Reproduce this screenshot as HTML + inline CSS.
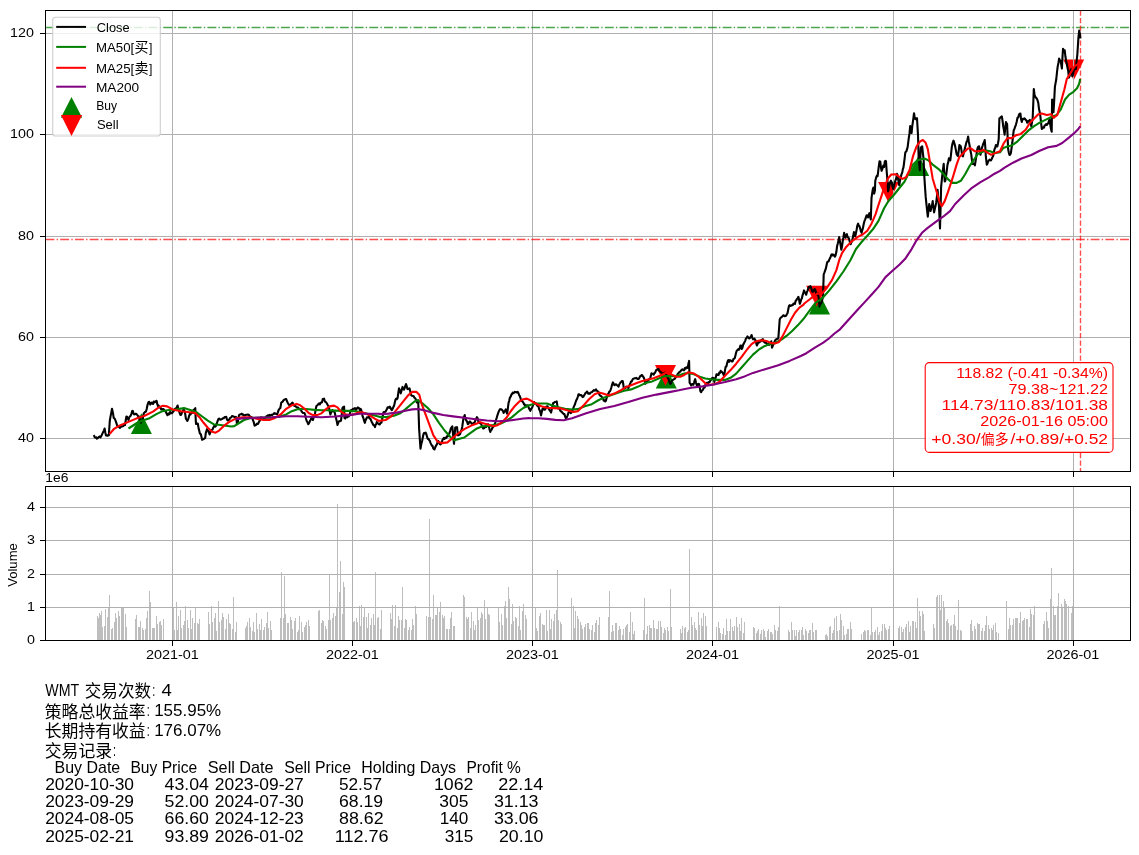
<!DOCTYPE html>
<html><head><meta charset="utf-8"><title>WMT</title>
<style>html,body{margin:0;padding:0;background:#fff}svg{display:block;will-change:transform}text{white-space:pre}</style></head>
<body><svg width="1139" height="855" viewBox="0 0 1139 855">
<rect width="1139" height="855" fill="#fff"/>
<g id="main">
<polygon points="130.9,434.0 151.9,434.0 141.4,413.3" fill="#008000"/>
<polygon points="655.8,388.6 676.8,388.6 666.3,367.9" fill="#008000"/>
<polygon points="809.0,314.5 830.0,314.5 819.5,293.8" fill="#008000"/>
<polygon points="908.2,176.0 929.2,176.0 918.7,155.3" fill="#008000"/>
<polygon points="655.0,365.0 676.0,365.0 665.5,385.7" fill="#ff0000"/>
<polygon points="806.2,285.7 827.2,285.7 816.7,306.4" fill="#ff0000"/>
<polygon points="878.1,182.0 899.1,182.0 888.6,202.7" fill="#ff0000"/>
<polygon points="1063.2,59.5 1084.2,59.5 1073.7,80.2" fill="#ff0000"/>
<line x1="172.5" y1="10.5" x2="172.5" y2="471.5" stroke="#b0b0b0" stroke-width="1" shape-rendering="crispEdges"/>
<line x1="352.5" y1="10.5" x2="352.5" y2="471.5" stroke="#b0b0b0" stroke-width="1" shape-rendering="crispEdges"/>
<line x1="532.5" y1="10.5" x2="532.5" y2="471.5" stroke="#b0b0b0" stroke-width="1" shape-rendering="crispEdges"/>
<line x1="712.5" y1="10.5" x2="712.5" y2="471.5" stroke="#b0b0b0" stroke-width="1" shape-rendering="crispEdges"/>
<line x1="893.5" y1="10.5" x2="893.5" y2="471.5" stroke="#b0b0b0" stroke-width="1" shape-rendering="crispEdges"/>
<line x1="1073.5" y1="10.5" x2="1073.5" y2="471.5" stroke="#b0b0b0" stroke-width="1" shape-rendering="crispEdges"/>
<line x1="45.5" y1="438.5" x2="1130.5" y2="438.5" stroke="#b0b0b0" stroke-width="1" shape-rendering="crispEdges"/>
<line x1="45.5" y1="337.5" x2="1130.5" y2="337.5" stroke="#b0b0b0" stroke-width="1" shape-rendering="crispEdges"/>
<line x1="45.5" y1="236.5" x2="1130.5" y2="236.5" stroke="#b0b0b0" stroke-width="1" shape-rendering="crispEdges"/>
<line x1="45.5" y1="134.5" x2="1130.5" y2="134.5" stroke="#b0b0b0" stroke-width="1" shape-rendering="crispEdges"/>
<line x1="45.5" y1="33.5" x2="1130.5" y2="33.5" stroke="#b0b0b0" stroke-width="1" shape-rendering="crispEdges"/>
<line x1="45.5" y1="27.5" x2="1130.5" y2="27.5" stroke="#008000" stroke-opacity="0.7" stroke-width="1.3" stroke-dasharray="8.89,2.22,1.39,2.22"/>
<line x1="45.5" y1="239.5" x2="1130.5" y2="239.5" stroke="#ff0000" stroke-opacity="0.7" stroke-width="1.3" stroke-dasharray="8.89,2.22,1.39,2.22"/>
<line x1="1080.5" y1="10.5" x2="1080.5" y2="471.5" stroke="#ff0000" stroke-opacity="0.7" stroke-width="1.4" stroke-dasharray="5.3,2.2"/>
<path d="M93.6,435.1 L94.2,436.0 L94.8,437.4 L95.5,437.6 L96.2,437.4 L96.9,438.6 L97.6,438.3 L98.3,437.5 L99.0,436.9 L99.7,436.5 L100.4,437.4 L101.1,436.2 L101.8,434.9 L102.5,433.4 L103.2,432.0 L103.9,430.6 L104.6,428.5 L105.3,432.5 L106.0,435.5 L106.7,435.5 L107.4,435.8 L108.1,435.0 L108.8,435.5 L109.8,420.7 L110.5,416.6 L111.3,412.6 L112.0,408.8 L112.9,412.7 L113.7,417.9 L114.4,418.3 L115.1,419.5 L115.8,421.4 L116.5,423.4 L117.2,425.7 L117.9,426.1 L118.6,426.5 L119.3,427.3 L120.0,427.8 L120.7,426.6 L121.4,426.8 L122.1,426.4 L122.8,426.1 L123.5,426.0 L124.2,424.9 L125.0,425.0 L125.7,420.5 L126.4,416.5 L127.1,416.7 L127.8,418.6 L128.5,420.0 L129.2,417.5 L129.9,416.5 L130.6,415.8 L131.4,413.9 L132.3,410.9 L132.9,411.0 L133.5,413.6 L134.1,414.4 L134.8,414.3 L135.5,413.8 L136.2,413.7 L136.9,414.6 L137.6,415.4 L138.3,416.3 L139.0,416.5 L139.8,419.6 L140.7,422.8 L141.3,421.6 L141.9,420.7 L142.5,420.0 L143.2,416.0 L143.9,413.0 L144.6,412.5 L145.3,411.7 L146.0,411.6 L146.7,409.0 L147.4,405.3 L148.3,402.6 L149.1,401.8 L149.7,402.6 L150.2,404.6 L150.9,403.6 L151.6,402.6 L152.3,403.2 L153.0,403.9 L153.7,401.5 L154.5,402.5 L155.2,401.8 L155.9,401.1 L156.6,400.8 L157.3,404.2 L158.0,406.0 L158.6,405.4 L159.3,407.4 L160.0,407.3 L160.7,408.0 L161.3,409.5 L162.2,409.2 L163.1,409.0 L163.8,409.4 L164.5,410.8 L165.3,411.2 L166.0,412.0 L166.7,413.8 L167.5,415.2 L168.1,414.5 L168.8,413.4 L169.5,414.2 L170.2,411.9 L171.0,413.0 L171.9,413.3 L172.7,412.1 L173.6,411.3 L174.5,409.5 L175.4,408.6 L176.2,408.2 L176.9,407.0 L177.6,405.5 L178.4,409.5 L179.1,411.2 L179.8,413.4 L180.4,414.9 L181.1,414.8 L181.7,413.3 L182.4,411.7 L183.0,410.5 L183.7,409.5 L184.4,410.9 L185.0,412.6 L185.9,418.7 L186.6,419.7 L187.4,420.9 L188.0,419.5 L188.5,418.3 L189.2,415.6 L189.9,413.9 L190.5,414.5 L191.2,413.0 L192.0,412.0 L192.9,413.0 L193.6,409.7 L194.2,409.9 L195.3,408.2 L195.6,416.9 L196.0,424.0 L196.9,423.7 L197.8,423.5 L198.6,428.4 L199.3,430.9 L199.9,433.6 L200.8,434.1 L201.5,437.1 L202.1,439.8 L203.0,439.2 L203.9,438.9 L204.6,438.4 L205.2,438.0 L205.8,432.8 L206.4,431.2 L207.0,429.2 L207.6,430.6 L208.3,431.0 L208.9,432.5 L209.6,434.5 L210.5,431.9 L211.1,430.6 L211.8,429.7 L212.5,429.8 L213.1,427.9 L213.7,427.1 L214.3,425.7 L214.9,425.1 L215.5,426.6 L216.2,425.3 L216.8,423.7 L217.5,421.3 L218.1,419.7 L218.6,418.7 L219.4,418.6 L220.1,419.6 L221.0,419.5 L221.9,419.1 L222.8,418.3 L223.7,418.3 L224.3,417.4 L225.0,417.0 L225.6,417.0 L226.3,416.9 L226.9,419.3 L227.6,420.5 L228.5,419.8 L229.4,419.6 L230.0,418.0 L230.7,417.8 L231.3,417.3 L232.0,416.1 L232.9,416.3 L233.7,416.5 L234.5,417.1 L235.2,417.4 L235.9,416.9 L236.4,417.8 L236.9,424.0 L237.7,422.2 L238.4,418.6 L239.0,415.2 L239.7,414.7 L240.3,414.3 L241.0,414.3 L241.7,413.7 L242.3,414.6 L243.0,414.3 L243.8,415.4 L244.7,415.2 L245.5,415.1 L246.2,414.8 L246.9,414.8 L247.8,414.6 L248.7,414.8 L249.3,415.5 L250.0,416.9 L250.9,416.8 L251.7,417.4 L252.4,418.7 L253.1,420.5 L253.9,422.7 L254.6,425.7 L255.4,425.1 L256.1,424.9 L257.0,423.6 L257.9,424.0 L258.6,422.8 L259.2,421.3 L260.0,420.5 L260.9,417.2 L261.6,417.8 L262.3,417.7 L263.0,417.7 L263.7,419.3 L264.4,418.6 L265.1,418.5 L265.8,416.9 L266.5,416.3 L267.2,415.8 L267.9,415.4 L268.6,415.9 L269.3,414.9 L270.0,415.8 L270.7,415.1 L271.4,414.7 L272.1,415.1 L272.8,414.4 L273.5,414.1 L274.2,413.2 L275.0,413.7 L275.7,413.6 L276.4,414.1 L277.1,414.4 L277.8,412.6 L278.5,410.2 L279.1,409.6 L279.7,408.4 L280.3,408.1 L281.3,402.5 L282.0,402.0 L282.7,401.6 L283.4,400.4 L284.1,399.9 L284.8,399.4 L285.5,399.1 L286.2,399.0 L286.9,401.0 L287.6,402.5 L288.3,403.9 L289.0,404.5 L289.7,406.0 L290.4,405.3 L291.1,404.0 L291.8,403.0 L292.5,402.5 L293.2,404.3 L293.9,405.2 L294.6,406.0 L295.3,406.0 L296.0,406.7 L296.7,407.3 L297.4,407.4 L298.1,407.6 L298.8,408.4 L299.5,409.3 L300.2,409.5 L300.9,409.5 L301.6,411.5 L302.3,412.3 L303.0,412.9 L303.7,413.0 L304.5,413.0 L305.2,414.9 L305.9,418.3 L306.6,420.7 L307.4,422.1 L308.2,424.2 L308.9,423.4 L309.5,422.2 L310.1,420.7 L310.8,419.4 L311.5,417.9 L312.2,418.6 L312.9,420.0 L313.6,417.6 L314.3,416.2 L315.0,413.7 L315.7,409.4 L316.4,406.0 L317.1,405.5 L317.8,404.8 L318.5,403.9 L319.2,403.4 L319.9,404.4 L320.6,402.9 L321.3,402.5 L322.0,402.4 L322.7,399.1 L323.4,399.0 L324.1,398.7 L324.8,401.2 L325.5,401.9 L326.2,402.5 L326.9,403.5 L327.6,404.8 L328.3,406.0 L329.0,407.8 L329.7,411.3 L330.4,414.4 L331.1,412.5 L331.8,411.5 L332.5,410.2 L333.2,411.3 L334.0,411.6 L334.7,412.3 L335.4,415.7 L336.1,418.6 L336.8,421.4 L337.5,425.0 L338.2,423.0 L338.9,421.4 L339.6,421.3 L340.3,420.8 L341.0,420.7 L341.7,415.0 L342.4,408.1 L343.2,407.0 L344.1,406.7 L344.5,417.9 L345.2,418.6 L345.9,417.0 L346.6,417.2 L347.3,417.2 L348.0,415.8 L348.7,416.5 L349.4,415.1 L350.1,412.7 L350.8,410.2 L351.5,410.0 L352.2,409.9 L352.9,408.8 L353.6,408.8 L354.3,408.5 L355.0,408.1 L355.7,409.9 L356.4,409.5 L357.1,408.1 L357.8,407.4 L358.5,407.7 L359.2,408.5 L359.9,410.1 L360.6,408.8 L361.3,410.2 L362.0,413.5 L362.7,416.5 L363.5,418.4 L364.2,421.0 L364.9,422.8 L365.6,420.1 L366.3,418.9 L367.0,417.2 L367.7,417.4 L368.4,417.5 L369.1,416.5 L369.8,418.7 L370.5,418.9 L371.2,420.7 L371.9,422.2 L372.6,423.5 L373.3,425.0 L374.1,425.3 L375.0,427.1 L375.6,424.7 L376.2,424.2 L376.8,422.1 L377.5,423.0 L378.2,423.5 L378.9,424.2 L379.7,424.4 L380.6,422.8 L381.4,422.8 L382.1,419.5 L382.8,415.7 L383.5,412.2 L384.2,412.0 L384.9,412.0 L385.6,411.5 L386.3,410.2 L387.0,408.8 L387.7,407.3 L388.4,407.2 L389.1,407.8 L389.8,406.6 L390.5,407.6 L391.2,409.5 L391.9,410.1 L392.6,409.0 L393.3,407.1 L394.0,405.9 L394.7,403.1 L395.5,399.6 L396.2,398.7 L396.9,399.2 L397.6,398.2 L398.3,392.9 L399.0,388.3 L399.6,389.7 L400.2,391.8 L400.8,393.3 L401.6,390.5 L402.5,386.9 L403.2,388.8 L403.9,389.7 L404.6,388.3 L405.3,385.9 L406.0,384.1 L406.7,386.1 L407.4,389.0 L408.1,389.1 L408.8,388.7 L409.5,388.3 L410.2,391.0 L410.9,394.7 L411.6,395.6 L412.3,395.7 L413.0,396.1 L413.7,396.3 L414.4,397.7 L415.1,398.2 L416.0,399.6 L416.8,402.4 L417.5,400.9 L418.2,400.3 L419.1,428.4 L419.8,438.8 L420.5,448.7 L421.3,444.1 L422.1,441.0 L422.8,437.5 L423.5,434.0 L424.2,432.9 L425.0,433.4 L425.7,432.6 L426.4,434.3 L427.1,436.9 L427.8,438.9 L428.5,438.9 L429.2,440.1 L429.9,441.0 L430.6,443.1 L431.3,444.5 L432.0,445.9 L432.6,445.9 L433.2,448.2 L433.9,449.0 L434.5,449.5 L435.3,447.2 L436.2,445.2 L436.9,444.5 L437.6,441.9 L438.3,441.0 L439.0,442.2 L439.7,443.9 L440.4,444.5 L441.1,443.8 L441.8,442.4 L442.5,439.8 L443.2,438.9 L443.9,437.8 L444.6,438.8 L445.3,437.7 L446.0,438.2 L446.7,437.3 L447.4,435.8 L448.1,436.1 L448.8,434.7 L449.5,433.0 L450.2,430.8 L450.9,428.4 L451.6,427.3 L452.3,426.3 L453.3,436.8 L454.0,443.8 L454.6,435.8 L455.2,427.7 L455.8,427.3 L456.4,427.4 L457.0,427.0 L458.0,435.4 L458.7,435.1 L459.4,434.7 L460.1,434.0 L460.8,431.4 L461.5,430.3 L462.2,427.0 L462.9,422.2 L463.6,417.1 L464.1,416.8 L464.7,415.0 L465.3,418.2 L466.0,420.0 L466.6,420.9 L467.2,421.9 L467.8,424.2 L468.5,423.9 L469.2,422.1 L469.9,421.4 L470.6,422.3 L471.3,423.1 L472.0,424.2 L472.7,424.0 L473.4,423.1 L474.1,423.5 L474.8,421.8 L475.5,420.1 L476.2,418.7 L476.9,417.1 L477.6,418.1 L478.3,421.4 L479.0,422.5 L479.7,422.9 L480.4,423.5 L481.1,423.8 L481.8,425.6 L482.5,427.2 L483.2,428.4 L484.0,428.2 L484.7,427.4 L485.4,427.0 L486.1,427.0 L486.8,425.6 L487.5,424.4 L488.2,424.2 L488.9,426.4 L489.6,429.7 L490.3,431.9 L491.0,430.2 L491.7,429.5 L492.4,427.7 L493.1,427.0 L493.8,425.5 L494.5,424.5 L495.2,422.8 L495.9,420.3 L496.6,418.1 L497.3,415.7 L498.0,413.6 L498.7,411.7 L499.4,410.1 L500.1,409.1 L500.8,409.4 L501.5,409.4 L502.2,410.1 L502.9,411.0 L503.6,412.9 L504.3,411.8 L505.0,410.8 L505.7,409.4 L506.4,411.4 L507.1,413.6 L507.8,409.0 L508.5,403.1 L509.2,400.8 L509.9,397.5 L510.6,396.8 L511.3,394.8 L512.0,394.0 L512.7,392.7 L513.5,393.2 L514.2,392.5 L514.9,391.9 L515.6,392.2 L516.3,392.1 L517.0,392.5 L517.7,391.9 L518.4,393.1 L519.1,395.0 L519.8,396.1 L520.5,398.1 L521.2,401.0 L521.9,400.3 L522.6,401.7 L523.3,402.4 L524.0,404.5 L524.7,404.4 L525.4,406.6 L526.1,406.6 L526.8,405.3 L527.5,405.2 L528.2,406.4 L528.9,408.0 L529.6,409.5 L530.3,410.8 L531.2,408.8 L532.1,407.7 L532.8,405.9 L533.5,404.2 L534.2,402.1 L534.9,403.2 L535.6,403.1 L536.3,404.2 L537.0,405.4 L537.7,406.1 L538.4,405.6 L539.1,409.2 L539.8,410.5 L540.4,412.3 L541.0,415.4 L541.7,412.3 L542.4,409.1 L543.2,408.4 L544.0,409.7 L544.7,409.8 L545.5,408.9 L546.2,406.9 L546.9,406.3 L547.6,406.4 L548.3,408.2 L549.0,409.1 L549.7,410.6 L550.4,411.0 L551.1,412.6 L551.8,409.0 L552.5,405.6 L553.2,403.1 L553.9,402.9 L554.6,402.1 L555.3,401.9 L556.0,401.7 L556.7,401.4 L557.4,405.7 L558.1,408.4 L558.8,408.5 L559.5,408.7 L560.2,410.5 L560.9,411.4 L561.6,411.6 L562.3,412.6 L563.0,413.2 L563.7,413.9 L564.4,414.0 L565.1,416.4 L565.8,418.2 L566.4,418.0 L567.0,417.0 L567.6,415.4 L568.5,412.5 L569.3,411.2 L570.0,411.6 L570.7,413.1 L571.4,412.6 L572.1,410.8 L572.8,409.8 L573.5,407.7 L574.2,405.9 L575.0,404.2 L575.7,401.8 L576.4,400.0 L577.1,398.9 L577.8,396.7 L578.5,394.3 L579.2,394.4 L579.9,395.3 L580.6,395.0 L581.3,395.1 L582.0,396.1 L582.7,397.1 L583.4,396.7 L584.1,395.3 L584.8,394.3 L585.5,392.9 L586.2,392.7 L586.9,391.5 L587.6,392.4 L588.3,393.6 L589.0,393.6 L589.7,393.8 L590.4,392.8 L591.1,392.3 L591.8,392.2 L592.5,391.5 L593.2,390.7 L593.9,390.1 L594.6,390.6 L595.3,390.4 L596.0,389.4 L596.7,390.8 L597.4,391.0 L598.1,391.5 L598.8,392.8 L599.5,394.8 L600.2,395.7 L600.9,396.0 L601.6,396.8 L602.3,397.1 L603.0,398.1 L603.7,400.7 L604.5,400.4 L605.2,401.4 L605.9,400.7 L606.6,398.0 L607.3,396.4 L608.0,394.1 L608.7,393.1 L609.4,391.5 L610.0,391.2 L610.6,389.9 L611.2,388.0 L612.0,385.0 L612.9,382.4 L613.6,383.6 L614.3,385.2 L615.0,384.9 L615.7,384.3 L616.4,384.5 L617.1,385.2 L617.8,385.8 L618.5,386.6 L619.2,384.5 L619.9,383.5 L620.6,382.4 L621.3,381.8 L622.0,381.0 L622.7,381.0 L623.3,384.3 L623.8,388.7 L624.6,388.5 L625.4,388.3 L626.2,386.6 L626.9,386.9 L627.6,387.3 L628.3,388.0 L629.0,386.6 L629.7,384.6 L630.4,383.1 L631.1,381.5 L631.8,381.4 L632.5,379.6 L633.2,378.7 L634.0,378.5 L634.7,378.2 L635.4,378.2 L636.1,377.9 L636.8,378.4 L637.5,379.0 L638.2,378.9 L638.9,378.7 L639.6,377.3 L640.3,376.1 L641.0,375.9 L641.7,375.0 L642.4,375.4 L643.1,376.7 L643.8,377.7 L644.5,379.6 L645.2,383.8 L645.9,382.8 L646.6,382.4 L647.3,381.0 L648.0,380.6 L648.7,379.8 L649.4,379.0 L650.1,378.9 L650.8,376.1 L651.5,373.3 L652.2,373.8 L652.9,373.7 L653.6,374.7 L654.3,373.2 L655.0,372.8 L655.7,371.2 L656.4,369.8 L657.1,369.9 L657.8,369.0 L658.5,369.0 L659.2,370.8 L659.9,371.2 L660.6,371.9 L661.3,372.6 L662.0,373.0 L662.7,373.3 L663.5,373.2 L664.2,372.9 L664.9,372.6 L665.6,372.9 L666.3,375.0 L667.0,376.1 L667.7,378.0 L668.4,378.6 L669.1,381.0 L669.8,382.8 L670.5,383.8 L671.2,383.0 L671.9,380.7 L672.6,380.3 L673.3,379.6 L674.0,379.2 L674.7,378.9 L675.4,377.7 L676.1,377.2 L676.8,376.1 L677.5,374.3 L678.2,373.6 L678.9,372.6 L679.7,371.9 L680.5,371.3 L681.3,370.2 L682.1,369.4 L682.8,369.5 L683.5,370.2 L684.2,370.1 L684.9,368.1 L685.6,368.7 L686.3,367.3 L687.0,367.5 L687.7,368.0 L688.4,363.8 L689.1,360.9 L689.6,382.7 L690.4,383.9 L691.2,385.5 L691.9,384.4 L692.6,384.0 L693.3,384.8 L694.0,382.8 L694.6,380.7 L695.2,379.2 L696.0,382.7 L696.9,385.5 L697.6,384.6 L698.3,383.9 L699.0,384.1 L699.7,387.2 L700.4,391.1 L701.1,392.2 L701.8,390.7 L702.5,390.4 L703.2,389.0 L703.9,387.8 L704.6,387.6 L705.3,385.2 L706.0,384.2 L706.7,382.7 L707.4,382.8 L708.1,383.1 L708.8,382.0 L709.5,382.2 L710.2,380.8 L710.9,379.9 L711.6,378.7 L712.3,377.9 L713.0,377.8 L713.7,378.2 L714.4,382.0 L715.1,378.7 L715.8,377.2 L716.5,374.3 L717.2,374.3 L717.9,375.0 L718.6,375.0 L719.3,372.6 L720.0,372.9 L720.7,370.8 L721.4,371.7 L722.1,372.2 L722.8,372.9 L723.5,374.6 L724.2,375.7 L725.0,370.1 L725.7,366.6 L726.4,366.6 L727.1,363.3 L727.8,360.9 L728.5,360.0 L729.2,361.8 L729.9,360.2 L730.6,360.6 L731.3,360.8 L732.0,361.6 L732.7,361.3 L733.4,359.0 L734.1,358.8 L734.8,358.1 L735.5,355.3 L736.2,352.3 L736.9,350.4 L737.6,350.1 L738.3,349.2 L739.0,349.7 L739.7,348.2 L740.4,345.5 L741.1,345.6 L741.8,349.0 L742.5,347.6 L743.2,344.6 L743.9,343.4 L744.6,342.0 L745.3,340.6 L746.0,338.3 L746.7,337.9 L747.4,336.4 L748.1,337.2 L748.8,338.2 L749.5,338.5 L750.2,337.5 L750.9,336.6 L751.6,335.0 L752.3,337.8 L753.0,339.2 L753.7,339.1 L754.5,338.7 L755.2,339.9 L755.8,340.8 L756.4,344.1 L757.0,345.5 L757.8,343.4 L758.7,342.0 L759.4,342.5 L760.1,341.5 L760.8,341.3 L761.5,339.8 L762.2,340.5 L762.9,339.2 L763.6,341.8 L764.3,341.4 L765.0,342.7 L765.7,342.4 L766.4,343.0 L767.1,344.1 L767.8,345.0 L768.5,344.1 L769.2,344.8 L769.9,343.3 L770.6,343.0 L771.3,341.3 L772.0,347.6 L772.7,346.0 L773.4,344.4 L774.1,342.7 L774.8,341.1 L775.5,339.9 L776.2,339.2 L776.9,339.1 L777.6,338.8 L778.3,338.5 L779.0,329.4 L779.7,319.5 L780.4,318.1 L781.1,317.4 L781.8,316.9 L782.5,316.3 L783.2,315.3 L784.0,315.6 L784.7,316.2 L785.4,316.0 L786.1,315.8 L786.8,314.3 L787.5,313.2 L788.2,309.7 L788.9,306.2 L789.7,305.2 L790.4,306.0 L791.2,305.5 L792.0,305.1 L792.8,305.2 L793.5,303.5 L794.2,303.5 L794.9,303.9 L795.6,301.0 L796.3,300.2 L797.0,298.9 L797.7,298.1 L798.4,296.8 L799.1,299.8 L799.8,303.8 L800.5,302.0 L801.2,299.5 L801.9,298.2 L802.6,295.1 L803.3,293.2 L804.0,290.4 L804.7,292.0 L805.5,293.2 L806.2,294.7 L806.9,292.0 L807.6,290.6 L808.3,288.3 L809.0,286.8 L809.7,287.5 L810.4,286.2 L811.1,287.8 L811.8,290.0 L812.5,291.8 L813.2,291.5 L813.9,290.4 L814.6,289.0 L815.3,289.9 L816.0,292.6 L816.7,294.7 L817.4,294.2 L818.1,293.2 L818.8,299.1 L819.5,306.6 L820.2,303.4 L820.9,303.7 L821.6,302.4 L822.3,299.5 L823.0,296.8 L823.7,274.3 L824.4,272.7 L825.1,270.6 L825.8,268.7 L826.5,265.6 L827.2,262.3 L827.9,261.6 L828.6,261.5 L829.3,259.5 L830.0,258.3 L830.7,256.7 L831.4,254.6 L832.1,254.3 L832.8,255.5 L833.5,254.6 L834.2,255.5 L835.0,256.7 L835.7,254.8 L836.4,251.8 L837.1,246.0 L837.8,243.4 L838.5,240.4 L839.2,237.1 L839.9,241.2 L840.6,245.1 L841.3,249.7 L842.0,246.5 L842.7,241.3 L843.4,237.4 L844.1,232.8 L844.8,235.2 L845.5,237.8 L846.2,235.6 L846.9,234.2 L847.6,237.1 L848.3,237.6 L849.0,238.5 L849.8,241.8 L850.7,244.1 L851.3,241.9 L851.9,241.8 L852.5,239.2 L853.2,236.1 L853.9,232.1 L854.6,234.0 L855.3,236.4 L856.0,232.8 L856.7,229.3 L857.4,225.3 L858.1,223.7 L858.8,225.8 L859.5,226.2 L860.2,228.6 L860.9,231.4 L861.6,232.8 L862.3,230.1 L863.0,227.9 L863.7,224.0 L864.5,220.9 L865.2,219.3 L865.9,217.3 L866.6,215.3 L867.3,215.5 L868.0,217.4 L868.7,215.2 L869.4,213.2 L870.1,216.8 L870.8,219.5 L871.5,198.2 L872.1,193.8 L872.7,189.8 L873.4,187.6 L874.2,193.6 L874.9,190.6 L875.3,180.7 L876.1,177.7 L876.8,175.9 L877.6,176.2 L878.2,171.4 L878.7,167.0 L879.5,161.3 L880.3,161.7 L881.0,167.8 L881.6,170.8 L882.5,168.6 L883.3,165.5 L884.1,167.0 L884.8,161.7 L885.4,160.8 L886.0,161.3 L886.6,170.1 L887.5,181.5 L888.1,191.4 L889.0,187.6 L889.9,183.0 L890.9,180.7 L891.7,182.2 L892.4,186.0 L893.2,189.1 L893.9,186.0 L894.5,183.3 L895.1,181.5 L895.7,180.0 L896.2,178.4 L897.0,173.9 L897.7,175.4 L898.5,181.5 L899.3,185.3 L900.0,180.7 L900.6,178.0 L901.2,175.4 L901.7,173.7 L902.3,172.4 L902.9,168.8 L903.4,167.8 L904.0,163.5 L904.6,158.7 L905.3,152.6 L905.9,151.7 L906.5,151.1 L907.1,148.9 L907.6,147.3 L908.2,142.7 L908.8,137.9 L909.5,133.4 L910.2,126.0 L910.9,128.5 L911.6,133.0 L912.3,125.8 L913.0,121.1 L914.0,113.3 L914.6,116.7 L915.2,119.0 L915.8,118.1 L916.4,119.5 L917.0,118.3 L918.0,135.1 L918.7,159.0 L919.2,163.9 L919.8,170.2 L920.8,147.8 L921.5,146.7 L922.2,146.4 L922.9,153.3 L923.6,159.0 L924.3,175.9 L925.0,187.1 L925.7,196.9 L926.4,203.8 L927.1,210.4 L927.8,216.6 L928.5,210.2 L929.2,204.0 L929.9,207.1 L930.6,211.0 L931.3,207.5 L932.0,205.4 L932.7,201.1 L933.4,207.3 L934.1,212.4 L934.8,209.1 L935.5,206.1 L936.2,202.5 L936.9,196.8 L937.6,189.9 L938.3,199.2 L939.0,206.8 L940.0,228.5 L940.6,207.7 L941.1,187.1 L941.8,180.0 L942.5,173.0 L943.1,168.7 L943.7,163.9 L944.7,181.5 L945.4,180.6 L946.1,175.9 L946.8,170.4 L947.5,164.6 L948.2,162.4 L948.9,158.3 L949.6,158.2 L950.3,160.4 L951.0,154.7 L951.7,147.8 L952.3,144.4 L952.9,142.3 L953.5,140.7 L954.3,143.1 L955.2,146.4 L955.9,150.1 L956.6,154.1 L957.3,155.3 L958.0,156.2 L958.7,150.8 L959.4,145.0 L960.1,145.8 L960.8,146.4 L961.5,150.6 L962.2,155.5 L962.9,156.4 L963.6,153.4 L964.3,150.9 L965.0,147.8 L965.7,145.4 L966.4,142.1 L967.3,140.8 L968.1,136.5 L968.8,141.5 L969.5,145.0 L970.1,148.7 L970.7,151.7 L971.3,154.8 L972.0,160.7 L972.7,163.9 L973.5,163.6 L974.2,164.1 L974.9,165.3 L975.6,160.9 L976.3,156.2 L977.0,150.5 L977.7,147.8 L978.4,146.5 L979.1,146.4 L979.8,151.4 L980.5,154.8 L981.2,150.9 L981.9,147.8 L982.6,145.8 L983.3,143.5 L984.0,142.3 L984.7,140.0 L985.3,147.2 L985.8,156.2 L986.8,164.6 L987.5,163.4 L988.2,161.3 L988.9,160.4 L989.6,159.6 L990.3,160.2 L991.0,160.4 L991.7,159.0 L992.4,157.3 L993.1,156.2 L993.8,152.2 L994.5,149.2 L995.2,147.8 L995.9,145.0 L996.6,146.5 L997.3,146.4 L998.0,143.3 L998.7,139.3 L999.4,118.3 L1000.1,117.8 L1001.0,117.0 L1001.8,116.4 L1002.5,120.5 L1003.2,126.2 L1003.9,129.8 L1004.6,134.6 L1005.3,127.5 L1006.0,122.0 L1006.6,123.2 L1007.1,124.1 L1008.1,148.7 L1008.8,152.5 L1009.5,155.0 L1010.2,154.6 L1010.9,152.9 L1011.6,147.9 L1012.3,143.0 L1013.0,136.4 L1013.7,130.4 L1014.5,128.7 L1015.2,126.7 L1015.9,124.8 L1016.7,121.7 L1017.5,117.8 L1018.2,117.5 L1018.9,115.0 L1019.6,113.7 L1020.4,113.5 L1021.1,119.3 L1021.8,122.0 L1022.4,119.5 L1023.0,118.8 L1023.6,119.2 L1024.3,118.3 L1025.0,118.9 L1025.7,119.9 L1026.4,120.4 L1027.1,122.8 L1027.8,122.0 L1028.5,120.8 L1029.2,121.4 L1029.9,119.9 L1030.6,122.8 L1031.3,126.2 L1032.0,122.1 L1032.7,117.8 L1033.3,102.6 L1033.8,89.0 L1034.5,94.5 L1035.2,96.7 L1036.1,97.7 L1036.9,98.8 L1037.6,100.4 L1038.3,103.0 L1039.0,109.1 L1039.7,112.0 L1040.4,116.4 L1041.1,123.0 L1041.8,129.0 L1042.5,128.4 L1043.2,127.4 L1044.0,127.6 L1044.7,125.4 L1045.4,125.1 L1046.1,124.1 L1046.8,125.0 L1047.5,123.9 L1048.2,123.4 L1048.9,121.1 L1049.6,119.2 L1050.3,124.9 L1051.0,129.0 L1051.7,131.8 L1052.1,99.5 L1052.8,105.1 L1053.5,112.1 L1054.2,100.5 L1054.9,86.9 L1055.6,82.9 L1056.3,79.0 L1057.0,72.1 L1057.7,66.4 L1058.4,63.0 L1059.1,58.6 L1059.8,60.1 L1060.5,60.7 L1061.2,64.3 L1061.9,68.5 L1062.4,58.8 L1063.0,48.8 L1063.8,50.2 L1064.7,50.2 L1065.4,56.5 L1066.1,60.7 L1066.8,63.6 L1067.5,67.8 L1068.2,70.7 L1068.9,77.6 L1069.6,76.3 L1070.3,71.8 L1071.0,69.2 L1071.7,72.4 L1072.4,76.2 L1073.1,73.7 L1073.8,70.3 L1074.5,67.8 L1075.2,69.2 L1075.9,69.2 L1076.6,61.2 L1077.3,55.1 L1077.9,45.8 L1078.5,36.9 L1079.2,30.5 L1079.8,33.5 L1080.4,38.3" fill="none" stroke="#000" stroke-width="2.1" stroke-linejoin="round" stroke-linecap="butt"/>
<path d="M128.5,428.5 L136.2,423.5 L141.8,420.7 L148.8,418.6 L155.9,414.4 L161.5,411.6 L167.1,410.2 L175.5,409.5 L184.0,408.1 L191.0,410.2 L196.6,412.3 L202.2,416.5 L207.8,420.7 L213.5,424.2 L220.5,425.0 L226.1,425.7 L231.0,426.5 L234.2,426.1 L238.4,423.5 L244.0,420.0 L251.1,417.9 L258.1,417.9 L265.1,417.6 L272.1,417.6 L279.2,416.8 L286.2,414.4 L291.8,411.2 L297.4,409.2 L303.0,408.8 L308.7,409.2 L314.3,409.9 L321.3,410.2 L328.3,410.2 L335.4,410.6 L342.4,410.9 L349.4,410.9 L356.4,411.2 L363.5,413.0 L370.5,414.4 L377.5,416.2 L380.0,417.1 L387.0,416.9 L394.0,415.7 L399.7,413.6 L405.3,409.4 L410.9,404.5 L415.1,401.0 L417.9,400.3 L422.1,403.1 L427.8,408.0 L433.4,414.3 L439.0,422.8 L444.6,430.5 L450.2,436.8 L454.5,440.3 L458.7,438.9 L464.3,437.5 L469.9,433.3 L476.9,428.4 L482.5,426.3 L489.6,425.9 L495.2,424.9 L500.8,423.5 L506.4,420.7 L512.0,417.1 L517.7,412.2 L523.3,408.0 L528.9,405.2 L530.0,404.9 L535.6,403.5 L541.2,403.5 L546.9,403.5 L552.5,405.6 L558.1,407.3 L565.1,408.7 L572.1,409.5 L577.8,409.1 L584.8,406.3 L591.8,404.2 L598.8,400.0 L605.9,396.9 L611.5,395.0 L617.1,392.9 L624.1,390.8 L631.1,389.4 L638.2,386.6 L645.2,383.1 L652.2,381.4 L659.2,378.2 L664.9,376.1 L670.5,376.1 L676.1,376.1 L680.0,375.0 L684.2,373.6 L688.4,372.9 L694.0,374.3 L699.7,376.8 L705.3,378.5 L710.9,379.2 L717.9,379.9 L725.0,379.9 L730.6,377.8 L736.2,373.6 L741.8,367.3 L747.4,360.9 L753.0,354.6 L758.7,349.7 L764.3,346.2 L769.9,344.1 L775.5,342.7 L781.1,339.9 L786.8,335.7 L792.4,330.7 L798.0,325.1 L803.6,318.8 L809.2,311.1 L815.3,303.1 L822.3,298.2 L829.3,290.4 L836.4,281.3 L843.4,271.5 L850.4,260.2 L856.0,249.0 L861.6,242.0 L867.3,235.7 L872.9,229.3 L878.5,220.9 L884.1,208.3 L888.3,201.2 L893.4,195.5 L899.0,188.5 L904.6,181.5 L908.8,173.0 L913.0,164.6 L917.3,160.4 L921.5,159.0 L925.0,158.7 L928.5,160.4 L932.7,164.6 L938.3,168.8 L944.0,174.5 L948.2,179.4 L952.4,182.9 L956.6,182.9 L960.8,180.8 L965.0,174.5 L969.2,166.7 L973.5,160.4 L977.7,154.1 L981.9,152.0 L986.1,150.6 L990.3,151.3 L994.5,153.1 L1000.0,152.3 L1003.2,148.0 L1007.4,146.6 L1012.3,145.2 L1017.3,141.6 L1022.9,136.0 L1028.5,130.4 L1034.1,126.2 L1039.7,122.7 L1045.4,119.9 L1051.0,117.1 L1056.6,115.0 L1060.8,109.3 L1065.0,99.5 L1069.2,94.6 L1073.5,91.8 L1077.0,88.3 L1079.1,84.0 L1080.2,79.1" fill="none" stroke="#008000" stroke-width="2.1" stroke-linejoin="round"/>
<path d="M109.5,434.1 L113.7,429.2 L119.3,425.7 L127.8,422.1 L136.2,418.6 L144.6,415.8 L153.0,411.6 L158.7,407.4 L162.9,405.7 L167.1,406.4 L172.7,409.5 L181.1,411.2 L189.6,412.3 L195.2,413.0 L199.4,417.2 L203.6,422.8 L207.8,427.8 L212.0,431.7 L215.6,432.7 L219.1,430.6 L223.3,426.4 L228.9,422.1 L235.6,418.6 L242.6,417.2 L249.7,417.2 L256.7,418.6 L263.7,420.0 L269.3,420.0 L275.0,417.9 L280.6,414.4 L286.2,408.8 L291.8,405.3 L296.7,403.9 L300.2,405.3 L304.5,408.8 L308.7,413.0 L312.9,415.1 L317.1,415.1 L321.3,413.4 L325.5,409.5 L329.7,406.4 L334.0,405.6 L337.5,407.4 L341.0,411.6 L345.2,414.4 L349.4,415.1 L353.6,414.4 L357.8,412.6 L362.0,412.3 L366.3,413.7 L370.5,415.8 L374.7,418.6 L378.9,421.0 L380.0,420.7 L385.6,420.0 L391.2,416.4 L396.9,409.4 L402.5,402.4 L408.1,395.4 L412.3,391.9 L416.5,391.9 L419.3,394.7 L421.4,403.1 L425.0,412.9 L429.2,424.2 L433.4,435.4 L437.6,441.7 L441.8,443.1 L447.4,442.4 L451.6,438.9 L457.3,434.0 L464.3,429.1 L471.3,425.6 L476.9,423.5 L479.7,422.1 L484.0,423.5 L489.6,424.9 L493.8,426.3 L498.0,424.9 L502.2,422.1 L506.4,417.8 L510.6,411.5 L514.9,405.9 L519.1,401.7 L523.3,399.2 L526.8,398.6 L530.3,400.3 L535.6,403.5 L541.2,406.3 L546.9,407.7 L553.9,408.1 L560.9,408.4 L567.9,410.5 L573.5,411.9 L577.8,411.2 L583.4,405.6 L589.0,399.2 L594.6,394.3 L598.8,392.6 L603.0,393.6 L608.7,395.5 L614.3,393.6 L619.9,390.8 L625.5,387.3 L631.1,385.2 L636.8,383.1 L642.4,381.0 L648.0,379.6 L653.6,378.2 L659.2,376.1 L664.9,373.3 L668.4,372.6 L671.9,374.7 L676.1,376.8 L680.3,376.8 L684.2,375.0 L688.4,372.2 L694.0,373.6 L698.3,376.4 L702.5,380.6 L706.0,384.1 L710.2,384.8 L715.1,384.1 L720.0,381.3 L725.0,375.7 L730.6,370.1 L736.2,363.7 L741.8,356.7 L747.4,349.0 L751.6,344.1 L755.2,341.7 L759.4,340.6 L762.9,340.3 L767.1,341.3 L771.3,343.1 L775.5,343.4 L779.0,342.0 L782.5,336.4 L786.8,327.9 L791.0,319.5 L795.2,312.5 L799.4,307.6 L803.6,304.7 L804.0,303.8 L811.1,298.2 L818.1,293.2 L820.9,294.7 L826.5,288.3 L832.1,279.9 L836.4,270.1 L839.2,260.2 L842.0,253.2 L846.2,246.9 L851.8,241.3 L857.4,237.1 L863.0,234.2 L867.3,230.7 L871.5,223.7 L875.7,213.9 L877.9,206.8 L883.5,189.9 L887.8,178.7 L891.3,174.5 L895.5,174.2 L899.0,176.6 L902.5,178.9 L906.0,177.3 L909.5,170.2 L913.0,156.2 L916.6,146.4 L920.1,141.4 L922.9,140.0 L925.7,142.8 L927.8,149.2 L929.9,161.8 L932.7,178.7 L936.9,192.7 L939.7,202.5 L941.8,206.1 L944.7,201.1 L948.2,191.3 L952.4,178.7 L956.6,164.6 L959.4,156.9 L963.6,152.7 L967.8,148.5 L970.6,148.2 L974.9,151.3 L979.1,151.3 L983.3,149.9 L987.5,152.7 L991.0,154.8 L994.5,153.4 L1000.0,151.3 L1003.9,143.0 L1007.4,138.1 L1011.6,138.1 L1015.9,135.3 L1020.8,133.9 L1025.7,129.7 L1029.9,122.7 L1034.1,118.5 L1038.3,114.2 L1041.8,113.5 L1046.8,115.0 L1051.0,114.2 L1053.8,117.8 L1057.3,115.0 L1060.8,102.3 L1064.3,89.7 L1066.8,79.0 L1070.3,73.4 L1074.5,66.4 L1078.7,63.5 L1080.8,60.7" fill="none" stroke="#ff0000" stroke-width="2.1" stroke-linejoin="round"/>
<path d="M235.6,419.1 L244.0,418.2 L258.1,417.6 L272.1,417.2 L286.2,416.2 L297.4,416.2 L308.7,416.8 L321.3,417.2 L335.4,416.5 L349.4,415.1 L359.2,413.7 L370.5,413.7 L378.9,413.7 L380.0,414.1 L388.4,413.6 L396.9,412.6 L405.3,410.8 L412.3,409.4 L417.9,409.0 L423.5,410.1 L433.4,412.9 L443.2,415.0 L453.0,416.4 L464.3,417.8 L475.5,419.2 L486.8,420.5 L498.0,421.2 L506.4,420.9 L514.9,419.7 L523.3,418.5 L528.9,418.1 L530.0,418.2 L538.4,418.2 L546.9,418.9 L555.3,419.9 L563.7,420.3 L572.1,418.2 L586.2,413.3 L600.2,409.1 L614.3,405.9 L628.3,402.1 L642.4,397.8 L656.4,394.6 L670.5,391.9 L678.9,390.3 L680.0,390.0 L691.2,387.8 L702.5,386.4 L713.7,384.5 L725.0,382.0 L736.2,379.2 L744.6,376.4 L753.0,372.9 L764.3,369.4 L778.3,365.2 L789.6,360.9 L800.8,356.0 L806.4,353.2 L814.9,347.6 L823.3,342.7 L828.9,338.5 L834.5,333.5 L840.0,329.3 L857.4,310.0 L864.5,302.4 L871.5,294.7 L878.5,286.9 L885.5,277.1 L892.5,270.8 L899.6,264.5 L905.2,258.8 L910.8,250.4 L916.4,240.6 L922.0,232.8 L927.7,227.9 L936.1,221.6 L943.1,216.7 L950.0,211.1 L955.2,204.0 L963.6,195.5 L972.0,187.8 L980.5,182.2 L988.9,177.3 L994.5,173.7 L1000.0,170.9 L1004.6,167.6 L1013.0,162.7 L1021.5,158.5 L1031.3,155.0 L1039.7,150.8 L1048.2,147.3 L1056.6,145.9 L1062.2,143.0 L1069.2,137.4 L1074.9,132.5 L1078.4,129.0 L1080.2,126.2" fill="none" stroke="#800080" stroke-width="2.1" stroke-linejoin="round"/>
<rect x="45.5" y="10.5" width="1085.0" height="461.0" fill="none" stroke="#000" stroke-width="1" shape-rendering="crispEdges"/>
<line x1="172.5" y1="471.5" x2="172.5" y2="477.0" stroke="#000" stroke-width="1" shape-rendering="crispEdges"/>
<line x1="352.5" y1="471.5" x2="352.5" y2="477.0" stroke="#000" stroke-width="1" shape-rendering="crispEdges"/>
<line x1="532.5" y1="471.5" x2="532.5" y2="477.0" stroke="#000" stroke-width="1" shape-rendering="crispEdges"/>
<line x1="712.5" y1="471.5" x2="712.5" y2="477.0" stroke="#000" stroke-width="1" shape-rendering="crispEdges"/>
<line x1="893.5" y1="471.5" x2="893.5" y2="477.0" stroke="#000" stroke-width="1" shape-rendering="crispEdges"/>
<line x1="1073.5" y1="471.5" x2="1073.5" y2="477.0" stroke="#000" stroke-width="1" shape-rendering="crispEdges"/>
<line x1="40.0" y1="438.5" x2="45.5" y2="438.5" stroke="#000" stroke-width="1" shape-rendering="crispEdges"/>
<text transform="translate(33.90,441.50) scale(1.155,1)" font-family="&quot;Liberation Sans&quot;,&quot;Noto Sans CJK SC&quot;,sans-serif" font-size="12.4" text-anchor="end" fill="#000" >40</text>
<line x1="40.0" y1="337.5" x2="45.5" y2="337.5" stroke="#000" stroke-width="1" shape-rendering="crispEdges"/>
<text transform="translate(33.90,340.50) scale(1.155,1)" font-family="&quot;Liberation Sans&quot;,&quot;Noto Sans CJK SC&quot;,sans-serif" font-size="12.4" text-anchor="end" fill="#000" >60</text>
<line x1="40.0" y1="236.5" x2="45.5" y2="236.5" stroke="#000" stroke-width="1" shape-rendering="crispEdges"/>
<text transform="translate(33.90,239.50) scale(1.155,1)" font-family="&quot;Liberation Sans&quot;,&quot;Noto Sans CJK SC&quot;,sans-serif" font-size="12.4" text-anchor="end" fill="#000" >80</text>
<line x1="40.0" y1="134.5" x2="45.5" y2="134.5" stroke="#000" stroke-width="1" shape-rendering="crispEdges"/>
<text transform="translate(33.90,137.50) scale(1.155,1)" font-family="&quot;Liberation Sans&quot;,&quot;Noto Sans CJK SC&quot;,sans-serif" font-size="12.4" text-anchor="end" fill="#000" >100</text>
<line x1="40.0" y1="33.5" x2="45.5" y2="33.5" stroke="#000" stroke-width="1" shape-rendering="crispEdges"/>
<text transform="translate(33.90,36.50) scale(1.155,1)" font-family="&quot;Liberation Sans&quot;,&quot;Noto Sans CJK SC&quot;,sans-serif" font-size="12.4" text-anchor="end" fill="#000" >120</text>
</g>
<g id="ann">
<rect x="925.2" y="362.6" width="187.8" height="89.8" rx="4.2" fill="#fff" fill-opacity="0.92" stroke="#ff0000" stroke-width="1.1"/>
<text x="956.20" y="378.20" font-family="&quot;Liberation Sans&quot;,&quot;Noto Sans CJK SC&quot;,sans-serif" font-size="14.3" fill="#ff0000" textLength="151.80" lengthAdjust="spacingAndGlyphs">118.82 (-0.41 -0.34%)</text>
<text x="1008.60" y="394.10" font-family="&quot;Liberation Sans&quot;,&quot;Noto Sans CJK SC&quot;,sans-serif" font-size="14.3" fill="#ff0000" textLength="99.40" lengthAdjust="spacingAndGlyphs">79.38~121.22</text>
<text x="941.60" y="410.40" font-family="&quot;Liberation Sans&quot;,&quot;Noto Sans CJK SC&quot;,sans-serif" font-size="14.3" fill="#ff0000" textLength="166.40" lengthAdjust="spacingAndGlyphs">114.73/110.83/101.38</text>
<text x="980.30" y="426.20" font-family="&quot;Liberation Sans&quot;,&quot;Noto Sans CJK SC&quot;,sans-serif" font-size="14.3" fill="#ff0000" textLength="127.70" lengthAdjust="spacingAndGlyphs">2026-01-16 05:00</text>
<text x="931.30" y="444.40" font-family="&quot;Liberation Sans&quot;,&quot;Noto Sans CJK SC&quot;,sans-serif" font-size="14.3" fill="#ff0000" textLength="49.30" lengthAdjust="spacingAndGlyphs">+0.30/</text>
<text x="980.80" y="444.40" font-family="&quot;Liberation Sans&quot;,&quot;Noto Sans CJK SC&quot;,sans-serif" font-size="14.2" fill="#ff0000" textLength="27.80" lengthAdjust="spacingAndGlyphs">偏多</text>
<text x="1010.50" y="444.40" font-family="&quot;Liberation Sans&quot;,&quot;Noto Sans CJK SC&quot;,sans-serif" font-size="14.3" fill="#ff0000" textLength="97.50" lengthAdjust="spacingAndGlyphs">/+0.89/+0.52</text>
</g>
<g id="legend">
<rect x="52.7" y="17.2" width="107.6" height="118.8" rx="2.8" fill="#fff" fill-opacity="0.8" stroke="#ccc" stroke-opacity="0.95" stroke-width="1.1"/>
<line x1="56.2" y1="26.9" x2="86" y2="26.9" stroke="#000" stroke-width="2"/>
<line x1="56.2" y1="46.9" x2="86" y2="46.9" stroke="#008000" stroke-width="2"/>
<line x1="56.2" y1="67.8" x2="86" y2="67.8" stroke="#ff0000" stroke-width="2"/>
<line x1="56.2" y1="86.7" x2="86" y2="86.7" stroke="#800080" stroke-width="2"/>
<polygon points="60.9,117.7 82.2,117.7 71.5,96.9" fill="#008000"/>
<polygon points="60.9,115.1 82.2,115.1 71.5,135.9" fill="#ff0000"/>
<text x="96.80" y="31.90" font-family="&quot;Liberation Sans&quot;,&quot;Noto Sans CJK SC&quot;,sans-serif" font-size="12.4" fill="#000" textLength="32.80" lengthAdjust="spacingAndGlyphs">Close</text>
<text x="95.90" y="51.80" font-family="&quot;Liberation Sans&quot;,&quot;Noto Sans CJK SC&quot;,sans-serif" font-size="12.4" fill="#000" textLength="38.30" lengthAdjust="spacingAndGlyphs">MA50[</text>
<text x="134.60" y="51.70" font-family="&quot;Liberation Sans&quot;,&quot;Noto Sans CJK SC&quot;,sans-serif" font-size="13.6" fill="#000" textLength="14.00" lengthAdjust="spacingAndGlyphs">买</text>
<text x="149.00" y="51.80" font-family="&quot;Liberation Sans&quot;,&quot;Noto Sans CJK SC&quot;,sans-serif" font-size="12.4" fill="#000" textLength="3.40" lengthAdjust="spacingAndGlyphs">]</text>
<text x="95.90" y="72.90" font-family="&quot;Liberation Sans&quot;,&quot;Noto Sans CJK SC&quot;,sans-serif" font-size="12.4" fill="#000" textLength="38.30" lengthAdjust="spacingAndGlyphs">MA25[</text>
<text x="134.60" y="72.80" font-family="&quot;Liberation Sans&quot;,&quot;Noto Sans CJK SC&quot;,sans-serif" font-size="13.6" fill="#000" textLength="14.00" lengthAdjust="spacingAndGlyphs">卖</text>
<text x="149.00" y="72.90" font-family="&quot;Liberation Sans&quot;,&quot;Noto Sans CJK SC&quot;,sans-serif" font-size="12.4" fill="#000" textLength="3.40" lengthAdjust="spacingAndGlyphs">]</text>
<text x="95.90" y="91.70" font-family="&quot;Liberation Sans&quot;,&quot;Noto Sans CJK SC&quot;,sans-serif" font-size="12.4" fill="#000" textLength="43.30" lengthAdjust="spacingAndGlyphs">MA200</text>
<text x="96.20" y="110.00" font-family="&quot;Liberation Sans&quot;,&quot;Noto Sans CJK SC&quot;,sans-serif" font-size="12.4" fill="#000" textLength="20.80" lengthAdjust="spacingAndGlyphs">Buy</text>
<text x="96.90" y="128.70" font-family="&quot;Liberation Sans&quot;,&quot;Noto Sans CJK SC&quot;,sans-serif" font-size="12.4" fill="#000" textLength="21.70" lengthAdjust="spacingAndGlyphs">Sell</text>
</g>
<g id="vol">
<path d="M97.5,640.5v-24.1M98.5,640.5v-23.0M99.5,640.5v-27.8M100.5,640.5v-25.3M101.5,640.5v-29.4M102.5,640.5v-13.1M104.5,640.5v-14.4M105.5,640.5v-31.9M107.5,640.5v-23.4M108.5,640.5v-33.8M109.5,640.5v-45.8M111.5,640.5v-12.0M112.5,640.5v-12.1M114.5,640.5v-18.8M115.5,640.5v-27.6M116.5,640.5v-22.9M118.5,640.5v-29.8M119.5,640.5v-24.9M121.5,640.5v-33.9M122.5,640.5v-32.3M123.5,640.5v-32.9M125.5,640.5v-27.0M126.5,640.5v-14.0M135.5,640.5v-22.0M136.5,640.5v-25.3M138.5,640.5v-13.7M139.5,640.5v-13.2M140.5,640.5v-20.0M142.5,640.5v-12.2M143.5,640.5v-10.5M145.5,640.5v-11.2M146.5,640.5v-22.4M147.5,640.5v-29.7M149.5,640.5v-49.8M150.5,640.5v-38.2M152.5,640.5v-12.6M153.5,640.5v-12.6M154.5,640.5v-12.3M156.5,640.5v-24.6M157.5,640.5v-16.4M159.5,640.5v-18.1M160.5,640.5v-19.5M161.5,640.5v-15.7M163.5,640.5v-21.8M173.5,640.5v-33.2M174.5,640.5v-10.9M176.5,640.5v-38.5M177.5,640.5v-10.7M178.5,640.5v-24.3M180.5,640.5v-30.3M181.5,640.5v-12.6M183.5,640.5v-15.4M184.5,640.5v-19.4M185.5,640.5v-34.9M187.5,640.5v-20.5M188.5,640.5v-12.8M190.5,640.5v-30.4M191.5,640.5v-11.8M192.5,640.5v-22.3M194.5,640.5v-17.4M195.5,640.5v-32.5M197.5,640.5v-17.2M198.5,640.5v-16.6M199.5,640.5v-22.0M208.5,640.5v-28.5M209.5,640.5v-17.0M211.5,640.5v-34.4M212.5,640.5v-18.1M214.5,640.5v-22.9M215.5,640.5v-27.2M216.5,640.5v-9.8M218.5,640.5v-39.8M219.5,640.5v-18.5M221.5,640.5v-20.5M222.5,640.5v-27.3M223.5,640.5v-23.2M225.5,640.5v-11.5M226.5,640.5v-21.8M228.5,640.5v-26.9M229.5,640.5v-17.6M230.5,640.5v-16.9M232.5,640.5v-11.4M233.5,640.5v-43.2M235.5,640.5v-9.0M236.5,640.5v-18.8M245.5,640.5v-12.3M246.5,640.5v-14.4M247.5,640.5v-18.6M249.5,640.5v-22.2M250.5,640.5v-13.6M252.5,640.5v-9.5M253.5,640.5v-18.6M254.5,640.5v-8.2M256.5,640.5v-27.4M257.5,640.5v-12.0M259.5,640.5v-17.0M260.5,640.5v-10.2M261.5,640.5v-21.4M263.5,640.5v-10.5M264.5,640.5v-14.0M266.5,640.5v-17.5M267.5,640.5v-28.1M268.5,640.5v-12.3M270.5,640.5v-19.9M271.5,640.5v-10.3M280.5,640.5v-22.9M281.5,640.5v-68.1M283.5,640.5v-22.8M284.5,640.5v-64.1M285.5,640.5v-26.7M287.5,640.5v-17.6M288.5,640.5v-17.2M290.5,640.5v-23.8M291.5,640.5v-20.2M292.5,640.5v-11.1M294.5,640.5v-19.9M295.5,640.5v-22.8M297.5,640.5v-8.4M298.5,640.5v-11.0M299.5,640.5v-24.2M301.5,640.5v-18.7M302.5,640.5v-8.9M304.5,640.5v-13.6M305.5,640.5v-15.1M306.5,640.5v-18.5M308.5,640.5v-20.2M309.5,640.5v-15.0M318.5,640.5v-30.0M319.5,640.5v-30.7M321.5,640.5v-17.7M322.5,640.5v-20.2M323.5,640.5v-19.2M325.5,640.5v-14.9M326.5,640.5v-11.3M328.5,640.5v-20.4M329.5,640.5v-66.4M330.5,640.5v-20.9M332.5,640.5v-22.9M333.5,640.5v-27.4M335.5,640.5v-24.4M336.5,640.5v-33.4M337.5,640.5v-136.1M339.5,640.5v-48.1M340.5,640.5v-79.7M342.5,640.5v-26.8M343.5,640.5v-58.1M344.5,640.5v-53.1M353.5,640.5v-18.7M354.5,640.5v-20.0M356.5,640.5v-22.2M357.5,640.5v-18.2M359.5,640.5v-34.7M360.5,640.5v-14.3M361.5,640.5v-35.2M363.5,640.5v-23.3M364.5,640.5v-34.0M366.5,640.5v-23.7M367.5,640.5v-12.3M368.5,640.5v-27.2M370.5,640.5v-15.5M371.5,640.5v-22.1M373.5,640.5v-26.6M374.5,640.5v-15.9M375.5,640.5v-68.1M377.5,640.5v-22.1M378.5,640.5v-23.4M380.5,640.5v-11.2M381.5,640.5v-30.3M390.5,640.5v-27.1M391.5,640.5v-21.7M392.5,640.5v-35.6M394.5,640.5v-14.3M395.5,640.5v-35.4M397.5,640.5v-12.9M398.5,640.5v-24.1M399.5,640.5v-20.6M401.5,640.5v-21.0M402.5,640.5v-53.8M404.5,640.5v-12.4M405.5,640.5v-21.7M406.5,640.5v-20.4M408.5,640.5v-10.6M409.5,640.5v-13.4M411.5,640.5v-10.5M412.5,640.5v-22.0M413.5,640.5v-15.8M415.5,640.5v-34.9M416.5,640.5v-26.9M426.5,640.5v-24.9M428.5,640.5v-23.9M429.5,640.5v-121.2M430.5,640.5v-23.8M432.5,640.5v-21.2M433.5,640.5v-45.2M435.5,640.5v-26.0M436.5,640.5v-25.3M437.5,640.5v-33.5M439.5,640.5v-28.6M440.5,640.5v-38.2M442.5,640.5v-25.4M443.5,640.5v-22.9M444.5,640.5v-24.9M446.5,640.5v-11.6M447.5,640.5v-11.4M449.5,640.5v-11.3M450.5,640.5v-22.7M451.5,640.5v-28.3M453.5,640.5v-14.1M454.5,640.5v-14.7M463.5,640.5v-45.2M464.5,640.5v-43.2M466.5,640.5v-23.7M467.5,640.5v-21.3M468.5,640.5v-23.8M470.5,640.5v-12.7M471.5,640.5v-28.1M473.5,640.5v-19.3M474.5,640.5v-10.1M475.5,640.5v-15.1M477.5,640.5v-33.3M478.5,640.5v-20.8M480.5,640.5v-22.7M481.5,640.5v-28.3M482.5,640.5v-26.3M484.5,640.5v-40.8M485.5,640.5v-21.3M487.5,640.5v-33.6M488.5,640.5v-26.3M489.5,640.5v-25.2M498.5,640.5v-34.0M499.5,640.5v-18.1M501.5,640.5v-26.3M502.5,640.5v-15.1M504.5,640.5v-34.7M505.5,640.5v-39.8M506.5,640.5v-22.5M508.5,640.5v-53.1M509.5,640.5v-41.5M511.5,640.5v-16.8M512.5,640.5v-36.5M513.5,640.5v-20.0M515.5,640.5v-23.5M516.5,640.5v-22.7M518.5,640.5v-15.0M519.5,640.5v-34.4M520.5,640.5v-10.2M522.5,640.5v-29.7M523.5,640.5v-36.5M525.5,640.5v-25.9M526.5,640.5v-21.1M535.5,640.5v-33.3M536.5,640.5v-12.9M537.5,640.5v-9.5M539.5,640.5v-24.8M540.5,640.5v-27.6M542.5,640.5v-16.1M543.5,640.5v-16.0M544.5,640.5v-16.0M546.5,640.5v-30.2M547.5,640.5v-9.4M549.5,640.5v-30.9M550.5,640.5v-11.9M551.5,640.5v-21.3M553.5,640.5v-19.2M554.5,640.5v-26.1M556.5,640.5v-30.8M557.5,640.5v-71.0M558.5,640.5v-20.7M560.5,640.5v-18.7M561.5,640.5v-16.2M571.5,640.5v-42.8M573.5,640.5v-34.9M574.5,640.5v-12.2M575.5,640.5v-29.6M577.5,640.5v-24.7M578.5,640.5v-21.8M580.5,640.5v-18.5M581.5,640.5v-16.0M582.5,640.5v-11.7M584.5,640.5v-13.5M585.5,640.5v-17.0M587.5,640.5v-17.9M588.5,640.5v-17.5M589.5,640.5v-12.0M591.5,640.5v-11.0M592.5,640.5v-15.8M594.5,640.5v-8.9M595.5,640.5v-17.3M596.5,640.5v-20.6M598.5,640.5v-16.0M599.5,640.5v-24.0M608.5,640.5v-23.9M609.5,640.5v-49.1M611.5,640.5v-8.7M612.5,640.5v-16.0M613.5,640.5v-9.5M615.5,640.5v-17.6M616.5,640.5v-17.7M618.5,640.5v-10.7M619.5,640.5v-14.1M620.5,640.5v-11.5M622.5,640.5v-5.9M623.5,640.5v-12.0M625.5,640.5v-13.4M626.5,640.5v-15.8M627.5,640.5v-16.2M629.5,640.5v-8.7M630.5,640.5v-28.2M632.5,640.5v-18.6M633.5,640.5v-6.7M634.5,640.5v-9.5M643.5,640.5v-10.7M644.5,640.5v-42.8M646.5,640.5v-6.8M647.5,640.5v-14.4M649.5,640.5v-15.8M650.5,640.5v-12.2M651.5,640.5v-12.5M653.5,640.5v-20.6M654.5,640.5v-13.0M656.5,640.5v-11.3M657.5,640.5v-11.4M658.5,640.5v-20.0M660.5,640.5v-19.9M661.5,640.5v-13.9M663.5,640.5v-7.2M664.5,640.5v-12.1M665.5,640.5v-11.0M667.5,640.5v-14.0M668.5,640.5v-9.9M670.5,640.5v-51.1M671.5,640.5v-13.7M680.5,640.5v-11.4M681.5,640.5v-7.3M682.5,640.5v-14.1M684.5,640.5v-12.5M685.5,640.5v-14.0M687.5,640.5v-8.6M688.5,640.5v-11.0M689.5,640.5v-92.0M691.5,640.5v-23.3M692.5,640.5v-15.2M694.5,640.5v-19.0M695.5,640.5v-12.4M696.5,640.5v-10.6M698.5,640.5v-28.2M699.5,640.5v-15.6M701.5,640.5v-22.4M702.5,640.5v-14.1M703.5,640.5v-27.2M705.5,640.5v-24.9M706.5,640.5v-15.0M716.5,640.5v-13.1M718.5,640.5v-18.1M719.5,640.5v-12.6M720.5,640.5v-7.5M722.5,640.5v-6.5M723.5,640.5v-12.8M725.5,640.5v-5.9M726.5,640.5v-21.6M727.5,640.5v-9.3M729.5,640.5v-9.5M730.5,640.5v-21.2M732.5,640.5v-13.7M733.5,640.5v-9.9M734.5,640.5v-14.1M736.5,640.5v-23.2M737.5,640.5v-14.0M739.5,640.5v-16.9M740.5,640.5v-9.6M741.5,640.5v-22.6M743.5,640.5v-7.9M744.5,640.5v-18.5M753.5,640.5v-13.5M754.5,640.5v-12.9M756.5,640.5v-7.1M757.5,640.5v-10.0M758.5,640.5v-11.7M760.5,640.5v-6.1M761.5,640.5v-10.1M763.5,640.5v-11.3M764.5,640.5v-9.9M765.5,640.5v-4.0M767.5,640.5v-9.1M768.5,640.5v-11.8M770.5,640.5v-9.0M771.5,640.5v-8.9M772.5,640.5v-6.2M774.5,640.5v-15.5M775.5,640.5v-10.5M777.5,640.5v-10.0M778.5,640.5v-13.2M779.5,640.5v-34.2M788.5,640.5v-10.5M789.5,640.5v-8.9M791.5,640.5v-18.3M792.5,640.5v-10.8M794.5,640.5v-10.3M795.5,640.5v-4.6M796.5,640.5v-10.2M798.5,640.5v-8.6M799.5,640.5v-10.3M801.5,640.5v-10.5M802.5,640.5v-13.1M803.5,640.5v-5.9M805.5,640.5v-11.5M806.5,640.5v-9.8M808.5,640.5v-8.0M809.5,640.5v-10.5M810.5,640.5v-10.2M812.5,640.5v-17.3M813.5,640.5v-8.8M815.5,640.5v-10.9M816.5,640.5v-10.3M825.5,640.5v-5.4M826.5,640.5v-7.0M827.5,640.5v-4.7M829.5,640.5v-14.0M830.5,640.5v-14.7M832.5,640.5v-7.9M833.5,640.5v-11.0M834.5,640.5v-22.6M836.5,640.5v-24.9M837.5,640.5v-9.9M839.5,640.5v-10.4M840.5,640.5v-26.6M841.5,640.5v-20.6M843.5,640.5v-14.5M844.5,640.5v-5.8M846.5,640.5v-7.0M847.5,640.5v-11.8M848.5,640.5v-11.1M850.5,640.5v-18.3M851.5,640.5v-11.1M861.5,640.5v-6.4M863.5,640.5v-8.5M864.5,640.5v-10.8M865.5,640.5v-9.1M867.5,640.5v-10.7M868.5,640.5v-10.9M870.5,640.5v-5.4M871.5,640.5v-33.5M872.5,640.5v-8.5M874.5,640.5v-9.0M875.5,640.5v-10.7M877.5,640.5v-13.3M878.5,640.5v-5.4M879.5,640.5v-8.6M881.5,640.5v-9.9M882.5,640.5v-16.4M884.5,640.5v-16.1M885.5,640.5v-12.2M886.5,640.5v-11.0M888.5,640.5v-11.8M889.5,640.5v-14.7M898.5,640.5v-12.3M899.5,640.5v-14.9M901.5,640.5v-13.9M902.5,640.5v-8.7M903.5,640.5v-11.6M905.5,640.5v-13.5M906.5,640.5v-16.9M908.5,640.5v-19.4M909.5,640.5v-8.7M910.5,640.5v-14.5M912.5,640.5v-19.3M913.5,640.5v-19.4M915.5,640.5v-18.5M916.5,640.5v-12.7M917.5,640.5v-42.2M919.5,640.5v-29.9M920.5,640.5v-24.4M922.5,640.5v-29.9M923.5,640.5v-26.5M924.5,640.5v-9.2M933.5,640.5v-16.1M934.5,640.5v-12.8M936.5,640.5v-43.2M937.5,640.5v-45.5M939.5,640.5v-45.2M940.5,640.5v-30.3M941.5,640.5v-45.2M943.5,640.5v-39.8M944.5,640.5v-33.2M946.5,640.5v-19.4M947.5,640.5v-21.2M948.5,640.5v-17.9M950.5,640.5v-14.5M951.5,640.5v-15.5M953.5,640.5v-16.3M954.5,640.5v-25.5M955.5,640.5v-14.6M957.5,640.5v-10.6M958.5,640.5v-40.5M960.5,640.5v-10.4M961.5,640.5v-9.3M970.5,640.5v-16.7M971.5,640.5v-20.6M972.5,640.5v-9.2M974.5,640.5v-14.3M975.5,640.5v-11.1M977.5,640.5v-17.8M978.5,640.5v-16.1M979.5,640.5v-16.7M981.5,640.5v-9.3M982.5,640.5v-13.0M984.5,640.5v-9.5M985.5,640.5v-15.1M986.5,640.5v-24.5M988.5,640.5v-15.5M989.5,640.5v-11.9M991.5,640.5v-12.1M992.5,640.5v-10.8M993.5,640.5v-15.4M995.5,640.5v-17.7M996.5,640.5v-8.9M998.5,640.5v-7.4M1006.5,640.5v-39.8M1008.5,640.5v-11.9M1009.5,640.5v-22.2M1010.5,640.5v-15.5M1012.5,640.5v-16.0M1013.5,640.5v-21.7M1015.5,640.5v-22.1M1016.5,640.5v-22.2M1017.5,640.5v-22.1M1019.5,640.5v-18.0M1020.5,640.5v-28.7M1022.5,640.5v-19.5M1023.5,640.5v-20.6M1024.5,640.5v-22.3M1026.5,640.5v-21.6M1027.5,640.5v-22.0M1029.5,640.5v-13.8M1030.5,640.5v-31.5M1031.5,640.5v-27.0M1033.5,640.5v-25.4M1034.5,640.5v-34.5M1043.5,640.5v-16.4M1044.5,640.5v-19.8M1046.5,640.5v-28.6M1047.5,640.5v-19.5M1048.5,640.5v-12.6M1050.5,640.5v-41.5M1051.5,640.5v-73.0M1053.5,640.5v-34.6M1054.5,640.5v-25.4M1055.5,640.5v-25.7M1057.5,640.5v-34.9M1058.5,640.5v-47.5M1061.5,640.5v-36.5M1062.5,640.5v-33.6M1064.5,640.5v-41.5M1065.5,640.5v-39.2M1066.5,640.5v-36.5M1068.5,640.5v-34.9M1071.5,640.5v-27.1M1072.5,640.5v-34.6M1073.5,640.5v-16.4" stroke="#bebebe" stroke-width="1" fill="none" shape-rendering="crispEdges"/>
<line x1="172.5" y1="486.5" x2="172.5" y2="640.5" stroke="#b0b0b0" stroke-width="1" shape-rendering="crispEdges"/>
<line x1="352.5" y1="486.5" x2="352.5" y2="640.5" stroke="#b0b0b0" stroke-width="1" shape-rendering="crispEdges"/>
<line x1="532.5" y1="486.5" x2="532.5" y2="640.5" stroke="#b0b0b0" stroke-width="1" shape-rendering="crispEdges"/>
<line x1="712.5" y1="486.5" x2="712.5" y2="640.5" stroke="#b0b0b0" stroke-width="1" shape-rendering="crispEdges"/>
<line x1="893.5" y1="486.5" x2="893.5" y2="640.5" stroke="#b0b0b0" stroke-width="1" shape-rendering="crispEdges"/>
<line x1="1073.5" y1="486.5" x2="1073.5" y2="640.5" stroke="#b0b0b0" stroke-width="1" shape-rendering="crispEdges"/>
<line x1="45.5" y1="607.5" x2="1130.5" y2="607.5" stroke="#b0b0b0" stroke-width="1" shape-rendering="crispEdges"/>
<line x1="45.5" y1="574.5" x2="1130.5" y2="574.5" stroke="#b0b0b0" stroke-width="1" shape-rendering="crispEdges"/>
<line x1="45.5" y1="540.5" x2="1130.5" y2="540.5" stroke="#b0b0b0" stroke-width="1" shape-rendering="crispEdges"/>
<line x1="45.5" y1="507.5" x2="1130.5" y2="507.5" stroke="#b0b0b0" stroke-width="1" shape-rendering="crispEdges"/>
<rect x="45.5" y="486.5" width="1085.0" height="154.0" fill="none" stroke="#000" stroke-width="1" shape-rendering="crispEdges"/>
<line x1="172.5" y1="640.5" x2="172.5" y2="646.0" stroke="#000" stroke-width="1" shape-rendering="crispEdges"/>
<text transform="translate(172.40,659.00) scale(1.205,1)" font-family="&quot;Liberation Sans&quot;,&quot;Noto Sans CJK SC&quot;,sans-serif" font-size="12.0" text-anchor="middle" fill="#000" >2021-01</text>
<line x1="352.5" y1="640.5" x2="352.5" y2="646.0" stroke="#000" stroke-width="1" shape-rendering="crispEdges"/>
<text transform="translate(352.40,659.00) scale(1.205,1)" font-family="&quot;Liberation Sans&quot;,&quot;Noto Sans CJK SC&quot;,sans-serif" font-size="12.0" text-anchor="middle" fill="#000" >2022-01</text>
<line x1="532.5" y1="640.5" x2="532.5" y2="646.0" stroke="#000" stroke-width="1" shape-rendering="crispEdges"/>
<text transform="translate(532.40,659.00) scale(1.205,1)" font-family="&quot;Liberation Sans&quot;,&quot;Noto Sans CJK SC&quot;,sans-serif" font-size="12.0" text-anchor="middle" fill="#000" >2023-01</text>
<line x1="712.5" y1="640.5" x2="712.5" y2="646.0" stroke="#000" stroke-width="1" shape-rendering="crispEdges"/>
<text transform="translate(712.50,659.00) scale(1.205,1)" font-family="&quot;Liberation Sans&quot;,&quot;Noto Sans CJK SC&quot;,sans-serif" font-size="12.0" text-anchor="middle" fill="#000" >2024-01</text>
<line x1="893.5" y1="640.5" x2="893.5" y2="646.0" stroke="#000" stroke-width="1" shape-rendering="crispEdges"/>
<text transform="translate(893.00,659.00) scale(1.205,1)" font-family="&quot;Liberation Sans&quot;,&quot;Noto Sans CJK SC&quot;,sans-serif" font-size="12.0" text-anchor="middle" fill="#000" >2025-01</text>
<line x1="1073.5" y1="640.5" x2="1073.5" y2="646.0" stroke="#000" stroke-width="1" shape-rendering="crispEdges"/>
<text transform="translate(1072.90,659.00) scale(1.205,1)" font-family="&quot;Liberation Sans&quot;,&quot;Noto Sans CJK SC&quot;,sans-serif" font-size="12.0" text-anchor="middle" fill="#000" >2026-01</text>
<line x1="40.0" y1="640.5" x2="45.5" y2="640.5" stroke="#000" stroke-width="1" shape-rendering="crispEdges"/>
<text transform="translate(35.00,644.00) scale(1.155,1)" font-family="&quot;Liberation Sans&quot;,&quot;Noto Sans CJK SC&quot;,sans-serif" font-size="12.4" text-anchor="end" fill="#000" >0</text>
<line x1="40.0" y1="607.5" x2="45.5" y2="607.5" stroke="#000" stroke-width="1" shape-rendering="crispEdges"/>
<text transform="translate(35.00,611.00) scale(1.155,1)" font-family="&quot;Liberation Sans&quot;,&quot;Noto Sans CJK SC&quot;,sans-serif" font-size="12.4" text-anchor="end" fill="#000" >1</text>
<line x1="40.0" y1="574.5" x2="45.5" y2="574.5" stroke="#000" stroke-width="1" shape-rendering="crispEdges"/>
<text transform="translate(35.00,578.00) scale(1.155,1)" font-family="&quot;Liberation Sans&quot;,&quot;Noto Sans CJK SC&quot;,sans-serif" font-size="12.4" text-anchor="end" fill="#000" >2</text>
<line x1="40.0" y1="540.5" x2="45.5" y2="540.5" stroke="#000" stroke-width="1" shape-rendering="crispEdges"/>
<text transform="translate(35.00,544.00) scale(1.155,1)" font-family="&quot;Liberation Sans&quot;,&quot;Noto Sans CJK SC&quot;,sans-serif" font-size="12.4" text-anchor="end" fill="#000" >3</text>
<line x1="40.0" y1="507.5" x2="45.5" y2="507.5" stroke="#000" stroke-width="1" shape-rendering="crispEdges"/>
<text transform="translate(35.00,511.00) scale(1.155,1)" font-family="&quot;Liberation Sans&quot;,&quot;Noto Sans CJK SC&quot;,sans-serif" font-size="12.4" text-anchor="end" fill="#000" >4</text>
<text transform="translate(45.30,481.60) scale(1.120,1)" font-family="&quot;Liberation Sans&quot;,&quot;Noto Sans CJK SC&quot;,sans-serif" font-size="12.4" text-anchor="start" fill="#000" >1e6</text>
<text transform="translate(17.20,565.00) rotate(-90) scale(1.090,1)" font-family="&quot;Liberation Sans&quot;,&quot;Noto Sans CJK SC&quot;,sans-serif" font-size="12.0" text-anchor="middle" fill="#000" >Volume</text>
</g>
<g id="txt">
<text x="45.30" y="695.60" font-family="&quot;Liberation Sans&quot;,&quot;Noto Sans CJK SC&quot;,sans-serif" font-size="16.2" fill="#000" textLength="33.90" lengthAdjust="spacingAndGlyphs">WMT</text>
<text x="84.80" y="696.60" font-family="&quot;Liberation Sans&quot;,&quot;Noto Sans CJK SC&quot;,sans-serif" font-size="16.67" fill="#000" textLength="66.20" lengthAdjust="spacingAndGlyphs">交易次数</text>
<text x="152.30" y="695.60" font-family="&quot;Liberation Sans&quot;,&quot;Noto Sans CJK SC&quot;,sans-serif" font-size="16.0" fill="#000" textLength="3.00" lengthAdjust="spacingAndGlyphs">:</text>
<text x="161.50" y="695.60" font-family="&quot;Liberation Sans&quot;,&quot;Noto Sans CJK SC&quot;,sans-serif" font-size="16.0" fill="#000" textLength="10.30" lengthAdjust="spacingAndGlyphs">4</text>
<text x="44.80" y="717.60" font-family="&quot;Liberation Sans&quot;,&quot;Noto Sans CJK SC&quot;,sans-serif" font-size="16.67" fill="#000" textLength="100.80" lengthAdjust="spacingAndGlyphs">策略总收益率</text>
<text x="146.80" y="716.30" font-family="&quot;Liberation Sans&quot;,&quot;Noto Sans CJK SC&quot;,sans-serif" font-size="16.0" fill="#000" textLength="3.00" lengthAdjust="spacingAndGlyphs">:</text>
<text x="154.20" y="716.30" font-family="&quot;Liberation Sans&quot;,&quot;Noto Sans CJK SC&quot;,sans-serif" font-size="16.0" fill="#000" textLength="67.00" lengthAdjust="spacingAndGlyphs">155.95%</text>
<text x="44.80" y="736.90" font-family="&quot;Liberation Sans&quot;,&quot;Noto Sans CJK SC&quot;,sans-serif" font-size="16.67" fill="#000" textLength="100.80" lengthAdjust="spacingAndGlyphs">长期持有收益</text>
<text x="146.80" y="735.60" font-family="&quot;Liberation Sans&quot;,&quot;Noto Sans CJK SC&quot;,sans-serif" font-size="16.0" fill="#000" textLength="3.00" lengthAdjust="spacingAndGlyphs">:</text>
<text x="154.20" y="735.60" font-family="&quot;Liberation Sans&quot;,&quot;Noto Sans CJK SC&quot;,sans-serif" font-size="16.0" fill="#000" textLength="67.00" lengthAdjust="spacingAndGlyphs">176.07%</text>
<text x="44.80" y="757.20" font-family="&quot;Liberation Sans&quot;,&quot;Noto Sans CJK SC&quot;,sans-serif" font-size="16.67" fill="#000" textLength="67.20" lengthAdjust="spacingAndGlyphs">交易记录</text>
<text x="112.90" y="756.10" font-family="&quot;Liberation Sans&quot;,&quot;Noto Sans CJK SC&quot;,sans-serif" font-size="16.0" fill="#000" textLength="3.00" lengthAdjust="spacingAndGlyphs">:</text>
<text x="54.60" y="772.80" font-family="&quot;Liberation Sans&quot;,&quot;Noto Sans CJK SC&quot;,sans-serif" font-size="16.2" fill="#000" textLength="65.60" lengthAdjust="spacingAndGlyphs">Buy Date</text>
<text x="130.40" y="772.80" font-family="&quot;Liberation Sans&quot;,&quot;Noto Sans CJK SC&quot;,sans-serif" font-size="16.2" fill="#000" textLength="66.90" lengthAdjust="spacingAndGlyphs">Buy Price</text>
<text x="207.80" y="772.80" font-family="&quot;Liberation Sans&quot;,&quot;Noto Sans CJK SC&quot;,sans-serif" font-size="16.2" fill="#000" textLength="65.80" lengthAdjust="spacingAndGlyphs">Sell Date</text>
<text x="284.20" y="772.80" font-family="&quot;Liberation Sans&quot;,&quot;Noto Sans CJK SC&quot;,sans-serif" font-size="16.2" fill="#000" textLength="66.90" lengthAdjust="spacingAndGlyphs">Sell Price</text>
<text x="361.30" y="772.80" font-family="&quot;Liberation Sans&quot;,&quot;Noto Sans CJK SC&quot;,sans-serif" font-size="16.2" fill="#000" textLength="94.80" lengthAdjust="spacingAndGlyphs">Holding Days</text>
<text x="466.50" y="772.80" font-family="&quot;Liberation Sans&quot;,&quot;Noto Sans CJK SC&quot;,sans-serif" font-size="16.2" fill="#000" textLength="54.30" lengthAdjust="spacingAndGlyphs">Profit %</text>
<text x="45.20" y="789.70" font-family="&quot;Liberation Sans&quot;,&quot;Noto Sans CJK SC&quot;,sans-serif" font-size="16.0" fill="#000" textLength="88.80" lengthAdjust="spacingAndGlyphs">2020-10-30</text>
<text x="164.60" y="789.70" font-family="&quot;Liberation Sans&quot;,&quot;Noto Sans CJK SC&quot;,sans-serif" font-size="16.0" fill="#000" textLength="44.30" lengthAdjust="spacingAndGlyphs">43.04</text>
<text x="214.80" y="789.70" font-family="&quot;Liberation Sans&quot;,&quot;Noto Sans CJK SC&quot;,sans-serif" font-size="16.0" fill="#000" textLength="89.00" lengthAdjust="spacingAndGlyphs">2023-09-27</text>
<text x="339.00" y="789.70" font-family="&quot;Liberation Sans&quot;,&quot;Noto Sans CJK SC&quot;,sans-serif" font-size="16.0" fill="#000" textLength="43.00" lengthAdjust="spacingAndGlyphs">52.57</text>
<text x="434.00" y="789.70" font-family="&quot;Liberation Sans&quot;,&quot;Noto Sans CJK SC&quot;,sans-serif" font-size="16.0" fill="#000" textLength="39.40" lengthAdjust="spacingAndGlyphs">1062</text>
<text x="498.30" y="789.70" font-family="&quot;Liberation Sans&quot;,&quot;Noto Sans CJK SC&quot;,sans-serif" font-size="16.0" fill="#000" textLength="45.10" lengthAdjust="spacingAndGlyphs">22.14</text>
<text x="45.20" y="806.60" font-family="&quot;Liberation Sans&quot;,&quot;Noto Sans CJK SC&quot;,sans-serif" font-size="16.0" fill="#000" textLength="88.80" lengthAdjust="spacingAndGlyphs">2023-09-29</text>
<text x="164.60" y="806.60" font-family="&quot;Liberation Sans&quot;,&quot;Noto Sans CJK SC&quot;,sans-serif" font-size="16.0" fill="#000" textLength="44.30" lengthAdjust="spacingAndGlyphs">52.00</text>
<text x="214.80" y="806.60" font-family="&quot;Liberation Sans&quot;,&quot;Noto Sans CJK SC&quot;,sans-serif" font-size="16.0" fill="#000" textLength="89.00" lengthAdjust="spacingAndGlyphs">2024-07-30</text>
<text x="339.00" y="806.60" font-family="&quot;Liberation Sans&quot;,&quot;Noto Sans CJK SC&quot;,sans-serif" font-size="16.0" fill="#000" textLength="44.20" lengthAdjust="spacingAndGlyphs">68.19</text>
<text x="439.30" y="806.60" font-family="&quot;Liberation Sans&quot;,&quot;Noto Sans CJK SC&quot;,sans-serif" font-size="16.0" fill="#000" textLength="29.10" lengthAdjust="spacingAndGlyphs">305</text>
<text x="493.90" y="806.60" font-family="&quot;Liberation Sans&quot;,&quot;Noto Sans CJK SC&quot;,sans-serif" font-size="16.0" fill="#000" textLength="44.60" lengthAdjust="spacingAndGlyphs">31.13</text>
<text x="45.20" y="824.20" font-family="&quot;Liberation Sans&quot;,&quot;Noto Sans CJK SC&quot;,sans-serif" font-size="16.0" fill="#000" textLength="88.80" lengthAdjust="spacingAndGlyphs">2024-08-05</text>
<text x="164.60" y="824.20" font-family="&quot;Liberation Sans&quot;,&quot;Noto Sans CJK SC&quot;,sans-serif" font-size="16.0" fill="#000" textLength="44.30" lengthAdjust="spacingAndGlyphs">66.60</text>
<text x="214.80" y="824.20" font-family="&quot;Liberation Sans&quot;,&quot;Noto Sans CJK SC&quot;,sans-serif" font-size="16.0" fill="#000" textLength="89.00" lengthAdjust="spacingAndGlyphs">2024-12-23</text>
<text x="339.00" y="824.20" font-family="&quot;Liberation Sans&quot;,&quot;Noto Sans CJK SC&quot;,sans-serif" font-size="16.0" fill="#000" textLength="44.60" lengthAdjust="spacingAndGlyphs">88.62</text>
<text x="439.80" y="824.20" font-family="&quot;Liberation Sans&quot;,&quot;Noto Sans CJK SC&quot;,sans-serif" font-size="16.0" fill="#000" textLength="28.60" lengthAdjust="spacingAndGlyphs">140</text>
<text x="493.90" y="824.20" font-family="&quot;Liberation Sans&quot;,&quot;Noto Sans CJK SC&quot;,sans-serif" font-size="16.0" fill="#000" textLength="44.60" lengthAdjust="spacingAndGlyphs">33.06</text>
<text x="45.20" y="841.70" font-family="&quot;Liberation Sans&quot;,&quot;Noto Sans CJK SC&quot;,sans-serif" font-size="16.0" fill="#000" textLength="88.80" lengthAdjust="spacingAndGlyphs">2025-02-21</text>
<text x="164.60" y="841.70" font-family="&quot;Liberation Sans&quot;,&quot;Noto Sans CJK SC&quot;,sans-serif" font-size="16.0" fill="#000" textLength="44.30" lengthAdjust="spacingAndGlyphs">93.89</text>
<text x="214.80" y="841.70" font-family="&quot;Liberation Sans&quot;,&quot;Noto Sans CJK SC&quot;,sans-serif" font-size="16.0" fill="#000" textLength="89.00" lengthAdjust="spacingAndGlyphs">2026-01-02</text>
<text x="334.80" y="841.70" font-family="&quot;Liberation Sans&quot;,&quot;Noto Sans CJK SC&quot;,sans-serif" font-size="16.0" fill="#000" textLength="53.80" lengthAdjust="spacingAndGlyphs">112.76</text>
<text x="444.70" y="841.70" font-family="&quot;Liberation Sans&quot;,&quot;Noto Sans CJK SC&quot;,sans-serif" font-size="16.0" fill="#000" textLength="28.70" lengthAdjust="spacingAndGlyphs">315</text>
<text x="499.00" y="841.70" font-family="&quot;Liberation Sans&quot;,&quot;Noto Sans CJK SC&quot;,sans-serif" font-size="16.0" fill="#000" textLength="44.40" lengthAdjust="spacingAndGlyphs">20.10</text>
</g>
</svg></body></html>
